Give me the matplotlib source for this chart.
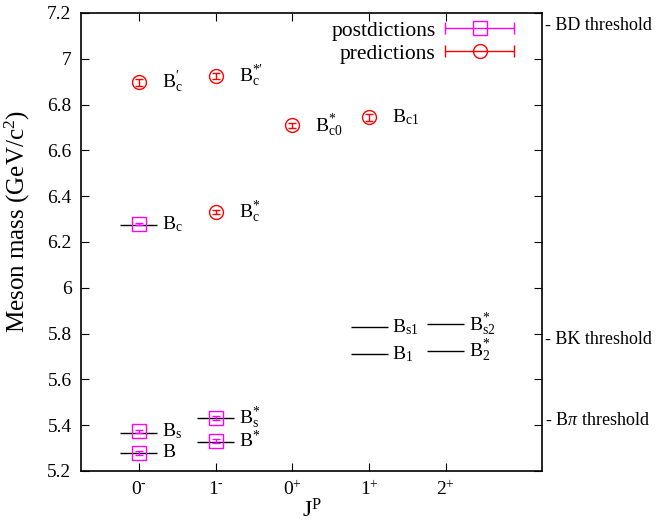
import numpy as np
import matplotlib
matplotlib.use("Agg")
import matplotlib.pyplot as plt
from matplotlib.ticker import FuncFormatter
from matplotlib.legend_handler import HandlerErrorbar

plt.rcParams['font.family'] = ['Liberation Serif', 'DejaVu Serif']
plt.rcParams['mathtext.fontset'] = 'custom'
plt.rcParams['mathtext.rm'] = 'Liberation Serif'
plt.rcParams['mathtext.it'] = 'Liberation Serif:italic'

# J^P slots
jp_labels = [r'0$^{\text{-}}$', r'1$^{\text{-}}$', '0$^{+}$', '1$^{+}$', '2$^{+}$']

# postdictions (model), GeV
post_x = [0, 0, 0, 1, 1]
post_m = [5.279, 5.373, 6.278, 5.331, 5.432]
post_err = [0.008, 0.008, 0.004, 0.008, 0.008]
post_names = [r'$\mathrm{B}$', r'$\mathrm{B}_\mathrm{s}$', r'$\mathrm{B}_\mathrm{c}$',
              r'$\mathrm{B}^{*}$', r'$\mathrm{B}_\mathrm{s}^{*}$']

# predictions (model), GeV
pred_x = [0, 1, 1, 2, 3]
pred_m = [6.898, 6.332, 6.925, 6.709, 6.744]
pred_err = [0.015, 0.008, 0.015, 0.012, 0.015]
pred_names = [r'$\mathrm{B}_\mathrm{c}^{\prime}$', r'$\mathrm{B}_\mathrm{c}^{*}$',
              r"$\mathrm{B}_\mathrm{c}^{*\prime}$", r'$\mathrm{B}_\mathrm{c0}^{*}$',
              r'$\mathrm{B}_\mathrm{c1}$']

# experimental levels (black bars)
exp_x = [0, 0, 0, 1, 1, 3, 3, 4, 4]
exp_m = [5.279, 5.367, 6.275, 5.325, 5.430, 5.829, 5.710, 5.840, 5.725]
exp_names = ['', '', '', '', '', r'$\mathrm{B}_\mathrm{s1}$', r'$\mathrm{B}_\mathrm{1}$',
             r'$\mathrm{B}_\mathrm{s2}^{*}$', r'$\mathrm{B}_\mathrm{2}^{*}$']

# thresholds
thr_m = [7.144, 5.773, 5.419]
thr_names = ['- BD threshold', '- BK threshold', r'- B$\pi$ threshold']

fig = plt.figure(figsize=(6.56, 5.32), dpi=100)
ax = fig.add_axes([0.124, 0.1147, 0.702, 0.8609])

half = 0.24
ax.hlines(exp_m, np.array(exp_x) - half, np.array(exp_x) + half, colors='black', lw=1, zorder=1)

ax.errorbar(post_x, post_m, yerr=post_err, fmt='s', ms=10, mfc='none', mec='#ff00ff',
            ecolor='#ff00ff', capsize=3, elinewidth=1, mew=1, zorder=3)
ax.errorbar(pred_x, pred_m, yerr=pred_err, fmt='o', ms=10, mfc='none', mec='#ff0000',
            ecolor='#ff0000', capsize=3, elinewidth=1, mew=1, zorder=3)

# legend handles (horizontal error bars, gnuplot style), one legend per row so text is right aligned
h1 = ax.errorbar([np.nan], [np.nan], xerr=[1], fmt='s', ms=10, mfc='none', mec='#ff00ff',
                 ecolor='#ff00ff', color='#ff00ff', capsize=4, elinewidth=1, mew=1, label='postdictions')
h2 = ax.errorbar([np.nan], [np.nan], xerr=[1], fmt='o', ms=10, mfc='none', mec='#ff0000',
                 ecolor='#ff0000', color='#ff0000', capsize=4, elinewidth=1, mew=1, label='predictions')
hmap = {type(h1): HandlerErrorbar(xerr_size=1.6)}
leg_y = [0.961, 0.911]
legs = []
for h, yy in zip([h1, h2], leg_y):
    lg = ax.legend(handles=[h], loc='center right', bbox_to_anchor=(0.94, yy), frameon=False,
                   markerfirst=False, fontsize=15.5, handlelength=3.2, handletextpad=0.45,
                   borderpad=0, borderaxespad=0, handler_map=hmap)
    legs.append(lg)
ax.add_artist(legs[0])

# labels next to points
for x, m, s in zip(post_x, post_m, post_names):
    ax.text(x + 0.3, m, s, fontsize=14, va='center', ha='left')
for x, m, s in zip(pred_x, pred_m, pred_names):
    ax.text(x + 0.3, m, s, fontsize=14, va='center', ha='left')
for x, m, s in zip(exp_x, exp_m, exp_names):
    if s:
        ax.text(x + 0.3, m, s, fontsize=14, va='center', ha='left')

trans = ax.get_yaxis_transform()
for m, s in zip(thr_m, thr_names):
    ax.text(1.006, m, s, transform=trans, fontsize=13, va='center', ha='left', clip_on=False)

ax.set_xlim(-0.75, 5.25)
ax.set_ylim(5.2, 7.2)
ax.set_xticks(range(len(jp_labels)))
ax.set_xticklabels(jp_labels)
ax.set_yticks(np.arange(5.2, 7.21, 0.2))
ax.yaxis.set_major_formatter(FuncFormatter(lambda v, p: '%g' % round(v, 1)))
ax.tick_params(direction='in', top=True, right=True, length=6, labelsize=14)
ax.tick_params(axis='y', pad=7)
ax.tick_params(axis='x', pad=7)
for sp in ax.spines.values():
    sp.set_linewidth(1.2)

ax.set_xlabel('J$^{\\mathrm{P}}$', fontsize=17)
ax.set_ylabel('Meson mass (GeV/c$^{2}$)', fontsize=18)
ax.xaxis.set_label_coords(0.5, -0.062)
ax.yaxis.set_label_coords(-0.108, 0.544)

fig.savefig('out.png', dpi=100)
